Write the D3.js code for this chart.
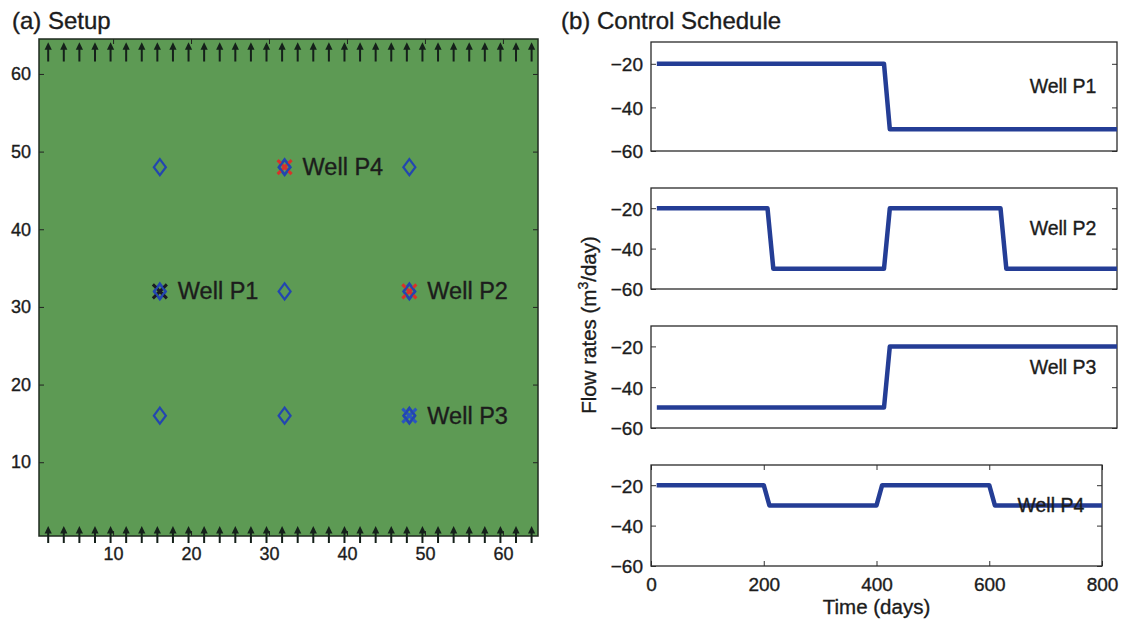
<!DOCTYPE html>
<html>
<head>
<meta charset="utf-8">
<script src="https://cdn.jsdelivr.net/npm/d3@7"></script>
<style>
  html, body { margin: 0; padding: 0; background: #fff; }
  svg { display: block; }
  text { font-family: "Liberation Sans", Arial, Helvetica, sans-serif; fill: #1c1c1c;
         stroke: #1c1c1c; stroke-width: 0.35px; }
</style>
</head>
<body>
<svg id="chart" width="1123" height="622"></svg>
<script>
// ---------------- DATA ----------------
// (a) Setup
const gridTicks = [10, 20, 30, 40, 50, 60];
const arrowX = [2, 4, 6, 8, 10, 12, 14, 16, 18, 20, 22, 24, 26, 28, 30, 32,
                34, 36, 38, 40, 42, 44, 46, 48, 50, 52, 54, 56, 58, 60, 62, 64];
const diamondX = [16, 32, 48, 16, 32, 48, 16, 32, 48];
const diamondY = [48, 48, 48, 32, 32, 32, 16, 16, 16];
const wellNames = ["Well P1", "Well P2", "Well P3", "Well P4"];
const wellX = [16, 48, 48, 32];
const wellY = [32, 32, 16, 48];
const wellMarkColor = ["#1a1a22", "#d8322a", "#2a55c0", "#d8322a"];

// (b) Control schedule  (time in days, rate in m3/day)
const timeTicks = [0, 200, 400, 600, 800];
const rateTicks = [-20, -40, -60];
const p1Time = [10, 400, 410, 800];
const p1Rate = [-20, -20, -50, -50];
const p2Time = [10, 200, 210, 400, 410, 600, 610, 800];
const p2Rate = [-20, -20, -50, -50, -20, -20, -50, -50];
const p3Time = [10, 400, 410, 800];
const p3Rate = [-50, -50, -20, -20];
const p4Time = [10, 200, 210, 400, 410, 600, 610, 800];
const p4Rate = [-20, -20, -30, -30, -20, -20, -30, -30];
const labelTime = 650, labelRate = -30;

// ---------------- DRAW ----------------
const svg = d3.select("#chart");
const FONT = 18;

// ===== Panel (a) =====
const xL = d3.scaleLinear().domain([0.5, 64.5]).range([39, 538]);
const yL = d3.scaleLinear().domain([0.5, 64.5]).range([536, 39]);

svg.append("text").attr("x", 12).attr("y", 29)
  .style("font-size", "24px").text("(a) Setup");

const gA = svg.append("g");
gA.append("rect")
  .attr("x", xL(0.5)).attr("y", yL(64.5))
  .attr("width", xL(64.5) - xL(0.5)).attr("height", yL(0.5) - yL(64.5))
  .attr("fill", "#5d9a54");

// axes with inward ticks
const axL = gA.append("g").attr("transform", `translate(${xL(0.5)},0)`)
  .call(d3.axisLeft(yL).tickValues(gridTicks).tickSizeInner(-5).tickSizeOuter(0).tickPadding(8));
const axB = gA.append("g").attr("transform", `translate(0,${yL(0.5)})`)
  .call(d3.axisBottom(xL).tickValues(gridTicks).tickSizeInner(-5).tickSizeOuter(0).tickPadding(11));
const axR = gA.append("g").attr("transform", `translate(${xL(64.5)},0)`)
  .call(d3.axisRight(yL).tickValues(gridTicks).tickSizeInner(-5).tickSizeOuter(0).tickFormat(""));
const axT = gA.append("g").attr("transform", `translate(0,${yL(64.5)})`)
  .call(d3.axisTop(xL).tickValues(gridTicks).tickSizeInner(-5).tickSizeOuter(0).tickFormat(""));
[axL, axB, axR, axT].forEach(a => {
  a.select(".domain").remove();
  a.selectAll("line").attr("stroke", "#222");
  a.selectAll("text").style("font-size", FONT + "px").attr("fill", "#1c1c1c");
});
gA.append("rect")
  .attr("x", xL(0.5)).attr("y", yL(64.5))
  .attr("width", xL(64.5) - xL(0.5)).attr("height", yL(0.5) - yL(64.5))
  .attr("fill", "none").attr("stroke", "#1f2a1f").attr("stroke-width", 1.5);

// quiver arrows (top and bottom boundaries)
function arrow(g, x, yTail, yTip) {
  g.append("line").attr("x1", x).attr("x2", x).attr("y1", yTail).attr("y2", yTip + 4)
    .attr("stroke", "#15201a").attr("stroke-width", 2);
  g.append("path")
    .attr("d", `M${x},${yTip} L${x - 3.6},${yTip + 7.5} L${x + 3.6},${yTip + 7.5} Z`)
    .attr("fill", "#15201a");
}
const arrG = gA.append("g");
arrowX.forEach(v => {
  arrow(arrG, xL(v) - 2.5, yL(61.6), yL(64.6) + 4);
  arrow(arrG, xL(v) - 2.5, yL(0.5) + 7, yL(1.8));
});

// diamonds
diamondX.forEach((v, i) => {
  const cx = xL(v), cy = yL(diamondY[i]);
  gA.append("path")
    .attr("d", `M${cx},${cy - 8} L${cx + 6},${cy} L${cx},${cy + 8} L${cx - 6},${cy} Z`)
    .attr("fill", "none").attr("stroke", "#2346b0").attr("stroke-width", 2.2);
});
// well x-markers + labels
wellX.forEach((v, i) => {
  const cx = xL(v), cy = yL(wellY[i]);
  const c = wellMarkColor[i], s = 7;
  gA.append("path")
    .attr("d", `M${cx - s},${cy - s} L${cx + s},${cy + s} M${cx - s},${cy + s} L${cx + s},${cy - s}`)
    .attr("stroke", c).attr("stroke-width", 3).attr("fill", "none");
  gA.append("path")
    .attr("d", `M${cx},${cy - 7} L${cx + 5.5},${cy} L${cx},${cy + 7} L${cx - 5.5},${cy} Z`)
    .attr("fill", "none").attr("stroke", "#2346b0").attr("stroke-width", 2.2);
  gA.append("text").attr("x", cx + 18).attr("y", cy + 8)
    .style("font-size", "23.5px").text(wellNames[i]);
});

// ===== Panel (b) =====
svg.append("text").attr("x", 561).attr("y", 29)
  .style("font-size", "24px").text("(b) Control Schedule");

const panels = [
  { t: p1Time, r: p1Rate, name: "Well P1", top: 42, bottom: 151, right: 1117 },
  { t: p2Time, r: p2Rate, name: "Well P2", top: 188, bottom: 289, right: 1117 },
  { t: p3Time, r: p3Rate, name: "Well P3", top: 326, bottom: 428, right: 1117 },
  { t: p4Time, r: p4Rate, name: "Well P4", top: 465, bottom: 566, right: 1102, xaxis: true }
];
const LEFT = 651;
panels.forEach(p => {
  const x = d3.scaleLinear().domain([0, 800]).range([LEFT, p.right]);
  const y = d3.scaleLinear().domain([-60, -10]).range([p.bottom, p.top]);
  const g = svg.append("g");
  const al = g.append("g").attr("transform", `translate(${LEFT},0)`)
    .call(d3.axisLeft(y).tickValues(rateTicks).tickSizeInner(-5).tickSizeOuter(0).tickPadding(8)
      .tickFormat(d => "\u2212" + Math.abs(d)));
  const ar = g.append("g").attr("transform", `translate(${p.right},0)`)
    .call(d3.axisRight(y).tickValues(rateTicks).tickSizeInner(-5).tickSizeOuter(0).tickFormat(""));
  const axes = [al, ar];
  if (p.xaxis) {
    const ab = g.append("g").attr("transform", `translate(0,${p.bottom})`)
      .call(d3.axisBottom(x).tickValues(timeTicks).tickSizeInner(-5).tickSizeOuter(0).tickPadding(12));
    const at = g.append("g").attr("transform", `translate(0,${p.top})`)
      .call(d3.axisTop(x).tickValues(timeTicks).tickSizeInner(-5).tickSizeOuter(0).tickFormat(""));
    axes.push(ab, at);
  }
  axes.forEach(a => {
    a.select(".domain").remove();
    a.selectAll("line").attr("stroke", "#333");
    a.selectAll("text").style("font-size", "19px").attr("fill", "#1c1c1c");
  });
  al.selectAll("text").attr("dy", "0.36em");
  g.append("rect").attr("x", LEFT).attr("y", p.top)
    .attr("width", p.right - LEFT).attr("height", p.bottom - p.top)
    .attr("fill", "none").attr("stroke", "#2a2a2a").attr("stroke-width", 1.3);

  const line = d3.line().x((d, i) => x(p.t[i])).y(d => y(d));
  g.append("path").datum(p.r).attr("d", line)
    .attr("fill", "none").attr("stroke", "#243d95").attr("stroke-width", 4.5)
    .attr("stroke-linejoin", "round");
  // label drawn after the line (in the reference the P4 label sits on top of it)
  g.append("text").attr("x", x(labelTime)).attr("y", y(labelRate) + 7)
    .style("font-size", "19.5px").text(p.name);
});

// axis titles
const yt = svg.append("text")
  .attr("transform", "translate(596,325) rotate(-90)")
  .attr("text-anchor", "middle").style("font-size", "20.5px");
yt.append("tspan").text("Flow rates (m");
yt.append("tspan").attr("dy", -8).style("font-size", "14px").text("3");
yt.append("tspan").attr("dy", 8).text("/day)");

svg.append("text").attr("x", (LEFT + 1102) / 2).attr("y", 614)
  .attr("text-anchor", "middle").style("font-size", "20.5px").text("Time (days)");
</script>
</body>
</html>
